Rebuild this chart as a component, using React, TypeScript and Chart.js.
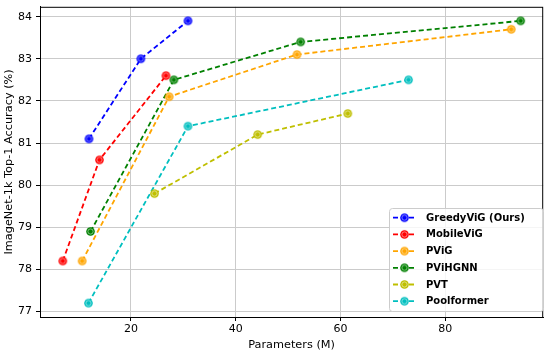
import React, { useEffect, useRef } from "react";
import { Chart, registerables } from "chart.js";
Chart.register(...registerables);

const seriesNames = ["GreedyViG (Ours)", "MobileViG", "PViG", "PViHGNN", "PVT", "Poolformer"];
const seriesColors = ["#0000ff", "#ff0000", "#ffa500", "#008000", "#bfbf00", "#00bfbf"];
const greedyParams = [12.0, 21.9, 30.9];
const greedyAcc = [81.1, 83.0, 83.9];
const mobileParams = [7.0, 14.0, 26.7];
const mobileAcc = [78.2, 80.6, 82.6];
const pvigParams = [10.7, 27.3, 51.7, 92.6];
const pvigAcc = [78.2, 82.1, 83.1, 83.7];
const hgnnParams = [12.3, 28.2, 52.4, 94.4];
const hgnnAcc = [78.9, 82.5, 83.4, 83.9];
const pvtParams = [24.5, 44.2, 61.4];
const pvtAcc = [79.8, 81.2, 81.7];
const poolParams = [11.9, 30.9, 73.0];
const poolAcc = [77.2, 81.4, 82.5];
const xTicks = [20, 40, 60, 80];
const yTicks = [77, 78, 79, 80, 81, 82, 83, 84];

const allParams = [greedyParams, mobileParams, pvigParams, hgnnParams, pvtParams, poolParams];
const allAcc = [greedyAcc, mobileAcc, pvigAcc, hgnnAcc, pvtAcc, poolAcc];

function makeMarker(color: string) {
  const c = document.createElement("canvas");
  c.width = 11;
  c.height = 11;
  const ctx = c.getContext("2d")!;
  ctx.beginPath();
  ctx.arc(5.5, 5.5, 4.3, 0, Math.PI * 2);
  ctx.fillStyle = color;
  ctx.fill();
  ctx.beginPath();
  ctx.arc(5.5, 5.5, 2.6, 0, Math.PI * 2);
  ctx.strokeStyle = "rgba(255,255,255,0.55)";
  ctx.lineWidth = 0.9;
  ctx.stroke();
  return c;
}

export default function App() {
  const ref = useRef<HTMLCanvasElement>(null);
  useEffect(() => {
    document.body.style.margin = "0";
    const markers = seriesColors.map(makeMarker);
    const datasets = seriesNames.map((name, i) => ({
      label: name,
      data: allParams[i].map((p, j) => ({ x: p, y: allAcc[i][j] })),
      borderColor: seriesColors[i],
      backgroundColor: seriesColors[i],
      borderWidth: 1.8,
      borderDash: [5, 3],
      pointStyle: markers[i] as any,
      pointRadius: 5,
      showLine: true,
      fill: false,
    }));
    const framePlugin = {
      id: "frame",
      afterDraw(chart: any) {
        const ctx = chart.ctx;
        const a = chart.chartArea;
        ctx.save();
        ctx.strokeStyle = "#000";
        ctx.lineWidth = 1;
        ctx.strokeRect(a.left + 0.5, a.top + 0.5, a.right - a.left - 1, a.bottom - a.top);
        ctx.fillStyle = "#000";
        ctx.font = "11.3px 'DejaVu Sans'";
        ctx.textAlign = "center";
        ctx.textBaseline = "middle";
        ctx.fillText("Parameters (M)", (a.left + a.right) / 2, 345);
        ctx.save();
        ctx.translate(9, (a.top + a.bottom) / 2);
        ctx.rotate(-Math.PI / 2);
        ctx.fillText("ImageNet-1k Top-1 Accuracy (%)", 0, 0);
        ctx.restore();
        const bx = 389, by = 208, bw = 154, bh = 103;
        ctx.beginPath();
        ctx.roundRect(bx + 0.5, by + 0.5, bw, bh, 3);
        ctx.fillStyle = "rgba(255,255,255,0.8)";
        ctx.fill();
        ctx.strokeStyle = "#cccccc";
        ctx.lineWidth = 1;
        ctx.stroke();
        ctx.font = "bold 10px 'DejaVu Sans'";
        ctx.textAlign = "left";
        seriesNames.forEach((name, i) => {
          const y = 217.7 + i * 16.7;
          ctx.beginPath();
          ctx.setLineDash([5, 3]);
          ctx.strokeStyle = seriesColors[i];
          ctx.lineWidth = 1.8;
          ctx.moveTo(393, y);
          ctx.lineTo(417, y);
          ctx.stroke();
          ctx.setLineDash([]);
          ctx.drawImage(markers[i], 404.5 - 5.5, y - 5.5);
          ctx.fillStyle = "#000";
          ctx.fillText(name, 426, y + 0.5);
        });
        ctx.restore();
      },
    };
    const chart = new Chart(ref.current!, {
      type: "scatter",
      data: { datasets } as any,
      options: {
        animation: false,
        responsive: false,
        layout: { padding: { left: 0, right: 2, top: 2, bottom: 0 } },
        plugins: { legend: { display: false }, tooltip: { enabled: false } },
        scales: {
          x: {
            type: "linear",
            min: 2.65,
            max: 98.7,
            afterBuildTicks: (s: any) => { s.ticks = xTicks.map((v) => ({ value: v })); },
            afterFit: (s: any) => { s.height = 35; s.paddingLeft = 0; s.paddingRight = 0; },
            grid: { color: "#cbcbcb", tickColor: "#000", tickLength: 4, lineWidth: 1 },
            border: { color: "#000" },
            ticks: { color: "#000", font: { family: "'DejaVu Sans'", size: 11 }, padding: 2, maxRotation: 0 },
          },
          y: {
            type: "linear",
            min: 76.87,
            max: 84.234,
            afterBuildTicks: (s: any) => { s.ticks = yTicks.map((v) => ({ value: v })); },
            afterFit: (s: any) => { s.width = 40; s.paddingTop = 0; s.paddingBottom = 0; },
            grid: { color: "#cbcbcb", tickColor: "#000", tickLength: 4, lineWidth: 1 },
            border: { color: "#000" },
            ticks: { color: "#000", font: { family: "'DejaVu Sans'", size: 11 }, padding: 4 },
          },
        },
      },
      plugins: [framePlugin],
    } as any);
    return () => chart.destroy();
  }, []);
  return <canvas ref={ref} width={550} height={352} style={{ display: "block" }} />;
}
